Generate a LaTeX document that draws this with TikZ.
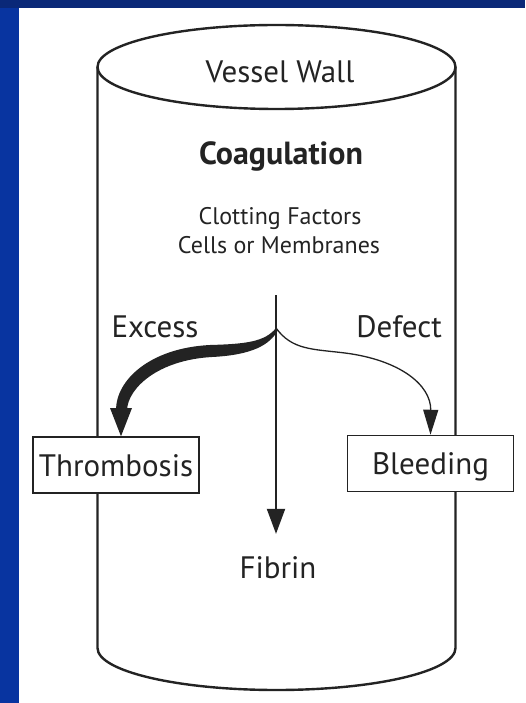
\documentclass[tikz,border=0pt]{standalone}
\usepackage{fontspec}
\setmainfont{PT Sans}
\usetikzlibrary{arrows.meta}
\definecolor{navy}{RGB}{10,40,120}
\definecolor{sideblue}{RGB}{8,52,160}
\definecolor{ink}{RGB}{35,35,35}
\begin{document}
\begin{tikzpicture}[x=1pt,y=-1pt,
  lbl/.style={font=\fontsize{31}{31}\selectfont, text=ink, inner sep=0pt},
  lblbold/.style={font=\fontsize{32}{32}\selectfont\bfseries, text=ink, inner sep=0pt},
  lblsmall/.style={font=\fontsize{24}{24}\selectfont, text=ink, inner sep=0pt},
  outcome/.style={draw=ink, line width=1.5pt, fill=white, minimum width=166pt, minimum height=56pt,
    text height=22pt, text depth=0pt, inner sep=0pt, font=\fontsize{31}{31}\selectfont, text=ink},
  cyl/.style={draw=ink, line width=2.4pt}
]
\fill[white] (0,0) rectangle (525,703);
\useasboundingbox (0,0) rectangle (525,703);
\fill[sideblue] (0,0) rectangle (19,703);
\fill[navy] (0,0) rectangle (525,8);

% cylinder
\draw[cyl] (276.5,67) ellipse [x radius=179, y radius=42];
\draw[cyl] (97.5,67) -- (97.5,648) .. controls (97.5,671.2) and (177.6,690) .. (276.5,690)
  .. controls (375.4,690) and (455.5,671.2) .. (455.5,648) -- (455.5,67);

% texts
\node[lbl, anchor=base] (vw) at (280,83) {Vessel Wall};
\node[lblbold, anchor=base] (coag) at (281,165) {Coagulation};
\node[lblsmall, anchor=base] (cf) at (280,225) {Clotting Factors};
\node[lblsmall, anchor=base] (cm) at (279,253) {Cells or Membranes};
\node[lbl, anchor=base] (exc) at (155,337) {Excess};
\node[lbl, anchor=base] (def) at (399,337) {Defect};
\node[lbl, anchor=base] (fib) at (278,578) {Fibrin};

% vertical arrow
\coordinate (vtop) at (276,295);
\coordinate (split) at (276,328);
\draw[ink, line width=2pt, -{Triangle[length=25pt,width=18pt]}, shorten >=22pt] (vtop) -- (fib.north -| vtop);

% boxes
\node[outcome] (thr) at (116,465) {Thrombosis};
\node[outcome] (bld) at (430.5,463.5) {Bleeding};

% thin arrow (defect)
\draw[ink, line width=1.3pt, -{Triangle[length=25pt,width=15pt]}] (split)
  .. controls (292,350) and (312,349) .. (345,353)
  .. controls (400,360) and (431,385) .. (bld.north);

% thick arrow (excess)
\coordinate (tt) at (121,0);
\fill[ink] (split) .. controls (265,342) and (245,344) .. (210,345)
  .. controls (150,348) and (116,380) .. (116,410) -- (127,410)
  .. controls (128,388) and (158,360) .. (212,357)
  .. controls (252,355) and (270,345) .. (278,330) -- cycle;
\fill[ink] (110,408) -- (132,408) -- (thr.north -| tt) -- cycle;
\end{tikzpicture}
\end{document}
